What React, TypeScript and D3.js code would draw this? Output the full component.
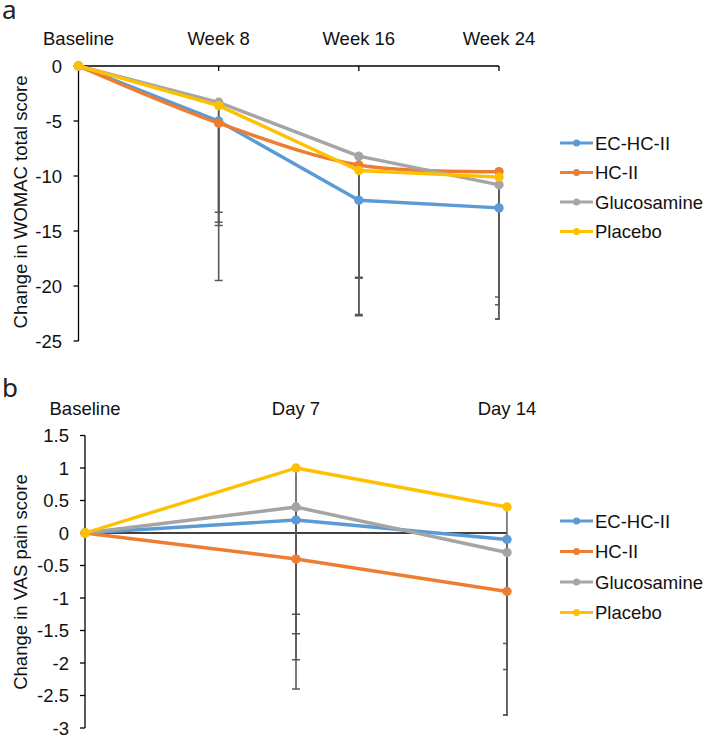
import React, { useRef, useEffect } from 'react';
import * as d3 from 'd3';

const seriesNames = ['EC-HC-II', 'HC-II', 'Glucosamine', 'Placebo'];
const seriesColors = ['#5B9BD5', '#ED7D31', '#A5A5A5', '#FFC000'];

// panel a - WOMAC total score
const womacVisits = ['Baseline', 'Week 8', 'Week 16', 'Week 24'];
const womacEcHc = [0, -5.0, -12.2, -12.9];
const womacHc = [0, -5.2, -9.0, -9.6];
const womacGluco = [0, -3.3, -8.2, -10.8];
const womacPlacebo = [0, -3.6, -9.5, -10.1];
// lower error bar lengths (SD)
const womacEcHcErr = [0, 14.5, 10.5, 10.1];
const womacHcErr = [0, 9.0, 10.3, 11.4];
const womacGlucoErr = [0, 10.0, 11.0, 10.9];
const womacPlaceboErr = [0, 10.9, 13.1, 12.9];
const womacTicks = [0, -5, -10, -15, -20, -25];

// panel b - VAS pain score
const vasVisits = ['Baseline', 'Day 7', 'Day 14'];
const vasEcHc = [0, 0.2, -0.1];
const vasHc = [0, -0.4, -0.9];
const vasGluco = [0, 0.4, -0.3];
const vasPlacebo = [0, 1.0, 0.4];
const vasEcHcErr = [0, 1.75, 1.6];
const vasHcErr = [0, 0.85, 1.9];
const vasGlucoErr = [0, 2.35, 1.8];
const vasPlaceboErr = [0, 3.4, 3.2];
const vasTicks = [1.5, 1, 0.5, 0, -0.5, -1, -1.5, -2, -2.5, -3];

const FONT = '"Liberation Sans", Arial, sans-serif';
const FS = 18.5;

interface PanelSpec {
  id: string;
  letter: string;
  letterY: number;
  visits: string[];
  values: number[][];
  errors: number[][];
  smooth: boolean[];
  x0: number;
  x1: number;
  yTop: number;
  yBottom: number;
  domain: [number, number];
  ticks: number[];
  title: string;
  titleY: number;
  catLabelY: number;
  tickLabelX: number;
  topAxis: boolean;
  legendY: number;
  legendStep: number;
}

const drawPanel = (svg: d3.Selection<SVGSVGElement, unknown, null, undefined>, p: PanelSpec) => {
  const g = svg.append('g');

  const x = d3.scalePoint<string>().domain(p.visits).range([p.x0, p.x1]);
  const y = d3.scaleLinear().domain(p.domain).range([p.yTop, p.yBottom]);

  // panel letter
  g.append('text')
    .attr('x', 2)
    .attr('y', p.letterY)
    .style('font-family', '"Noto Sans", sans-serif')
    .style('font-size', '26px')
    .style('fill', '#222')
    .text(p.letter);

  // clip for error bars (Excel clips at plot area)
  const clipId = `clip-${p.id}`;
  svg.append('clipPath').attr('id', clipId)
    .append('rect')
    .attr('x', p.x0 - 10)
    .attr('y', p.yTop - 5)
    .attr('width', p.x1 - p.x0 + 10.8)
    .attr('height', p.yBottom - p.yTop + 10);

  // y axis
  g.append('line')
    .attr('x1', p.x0).attr('x2', p.x0)
    .attr('y1', p.yTop).attr('y2', p.yBottom)
    .attr('stroke', '#000').attr('stroke-width', 1.3);

  g.selectAll('.ytick')
    .data(p.ticks)
    .enter()
    .append('line')
    .attr('x1', p.x0 - 5).attr('x2', p.x0)
    .attr('y1', d => y(d)).attr('y2', d => y(d))
    .attr('stroke', '#000').attr('stroke-width', 1.3);

  g.selectAll('.ylabel')
    .data(p.ticks)
    .enter()
    .append('text')
    .attr('x', p.tickLabelX)
    .attr('y', d => y(d))
    .attr('dy', '0.36em')
    .attr('text-anchor', 'end')
    .style('font-family', FONT)
    .style('font-size', `${FS}px`)
    .style('fill', '#111')
    .text(d => String(d));

  // category axis at y = 0
  g.append('line')
    .attr('x1', p.x0).attr('x2', p.x1)
    .attr('y1', y(0)).attr('y2', y(0))
    .attr('stroke', '#000').attr('stroke-width', 1.3);

  if (p.topAxis) {
    g.selectAll('.xtick')
      .data(p.visits.slice(1))
      .enter()
      .append('line')
      .attr('x1', d => x(d)!).attr('x2', d => x(d)!)
      .attr('y1', y(0)).attr('y2', y(0) + 5)
      .attr('stroke', '#000').attr('stroke-width', 1.3);
  }

  g.selectAll('.xlabel')
    .data(p.visits)
    .enter()
    .append('text')
    .attr('x', d => x(d)!)
    .attr('y', p.catLabelY)
    .attr('text-anchor', 'middle')
    .style('font-family', FONT)
    .style('font-size', `${FS}px`)
    .style('fill', '#111')
    .text(d => d);

  // y axis title
  g.append('text')
    .attr('transform', `translate(20,${p.titleY}) rotate(-90)`)
    .attr('text-anchor', 'middle')
    .attr('dy', '0.36em')
    .style('font-family', FONT)
    .style('font-size', `${FS}px`)
    .style('fill', '#111')
    .text(p.title);

  // error bars (minus direction only)
  const eb = g.append('g').attr('clip-path', `url(#${clipId})`);
  p.values.forEach((vals, si) => {
    vals.forEach((v, i) => {
      const e = p.errors[si][i];
      if (!e) return;
      const cx = x(p.visits[i])!;
      const lo = y(v - e);
      eb.append('line')
        .attr('x1', cx).attr('x2', cx)
        .attr('y1', y(v)).attr('y2', lo)
        .attr('stroke', '#595959').attr('stroke-width', 1.6);
      eb.append('line')
        .attr('x1', cx - 4).attr('x2', cx + 4)
        .attr('y1', lo).attr('y2', lo)
        .attr('stroke', '#595959').attr('stroke-width', 1.6);
    });
  });

  // series
  p.values.forEach((vals, si) => {
    const line = d3.line<number>()
      .x((_, i) => x(p.visits[i])!)
      .y(d => y(d))
      .curve(p.smooth[si] ? d3.curveCatmullRom.alpha(0.5) : d3.curveLinear);
    g.append('path')
      .attr('d', line(vals))
      .attr('fill', 'none')
      .attr('stroke', seriesColors[si])
      .attr('stroke-width', 3.4)
      .attr('stroke-linejoin', 'round');
    g.selectAll(`.pt${si}`)
      .data(vals)
      .enter()
      .append('circle')
      .attr('cx', (_, i) => x(p.visits[i])!)
      .attr('cy', d => y(d))
      .attr('r', 4.7)
      .attr('fill', seriesColors[si]);
  });

  // legend
  const lg = g.append('g');
  seriesNames.forEach((name, si) => {
    const ly = p.legendY + si * p.legendStep;
    lg.append('line')
      .attr('x1', 560).attr('x2', 593)
      .attr('y1', ly).attr('y2', ly)
      .attr('stroke', seriesColors[si]).attr('stroke-width', 3.2);
    lg.append('circle')
      .attr('cx', 576.5).attr('cy', ly).attr('r', 3.5)
      .attr('fill', seriesColors[si]);
    lg.append('text')
      .attr('x', 595)
      .attr('y', ly)
      .attr('dy', '0.36em')
      .style('font-family', FONT)
      .style('font-size', `${FS}px`)
      .style('fill', '#111')
      .text(name);
  });
};

const App: React.FC = () => {
  const svgRef = useRef<SVGSVGElement>(null);

  useEffect(() => {
    if (!svgRef.current) return;
    const svg = d3.select(svgRef.current);
    svg.selectAll('*').remove();

    drawPanel(svg, {
      id: 'a',
      letter: 'a',
      letterY: 19,
      visits: womacVisits,
      values: [womacEcHc, womacHc, womacGluco, womacPlacebo],
      errors: [womacEcHcErr, womacHcErr, womacGlucoErr, womacPlaceboErr],
      smooth: [false, true, false, false],
      x0: 78.5,
      x1: 499,
      yTop: 66,
      yBottom: 341,
      domain: [0, -25],
      ticks: womacTicks,
      title: 'Change in WOMAC total score',
      titleY: 202,
      catLabelY: 44.5,
      tickLabelX: 62,
      topAxis: true,
      legendY: 143,
      legendStep: 29.5,
    });

    drawPanel(svg, {
      id: 'b',
      letter: 'b',
      letterY: 397,
      visits: vasVisits,
      values: [vasEcHc, vasHc, vasGluco, vasPlacebo],
      errors: [vasEcHcErr, vasHcErr, vasGlucoErr, vasPlaceboErr],
      smooth: [false, false, false, false],
      x0: 85,
      x1: 507,
      yTop: 435.5,
      yBottom: 728,
      domain: [1.5, -3],
      ticks: vasTicks,
      title: 'Change in VAS pain score',
      titleY: 582,
      catLabelY: 414.5,
      tickLabelX: 69,
      topAxis: false,
      legendY: 521,
      legendStep: 30.5,
    });
  }, []);

  return (
    <svg
      ref={svgRef}
      width={708}
      height={738}
      style={{ position: 'absolute', left: 0, top: 0, background: '#fff' }}
    />
  );
};

export default App;
